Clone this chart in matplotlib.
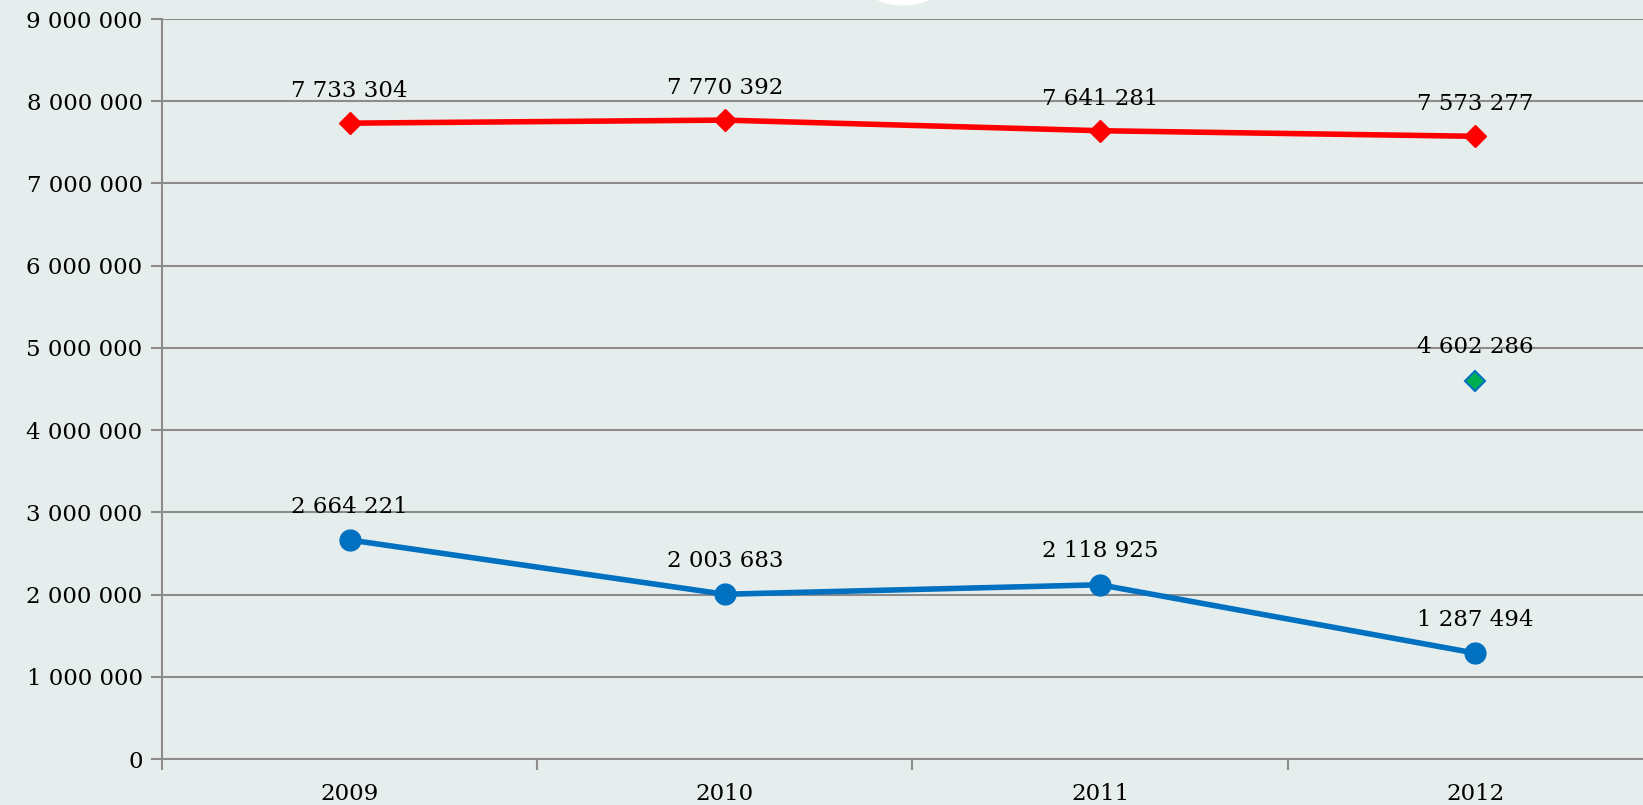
import matplotlib.pyplot as plt
from matplotlib.patches import Ellipse
from matplotlib.ticker import FuncFormatter

years = ["2009", "2010", "2011", "2012"]
red_values = [7733304, 7770392, 7641281, 7573277]
blue_values = [2664221, 2003683, 2118925, 1287494]
green_year = ["2012"]
green_values = [4602286]

BG = "#e6eeed"
GRID = "#8c8c8c"


def spaced(v):
    return f"{int(v):,}".replace(",", " ")


plt.rcParams["font.family"] = ["DejaVu Serif"]

fig = plt.figure(figsize=(16.43, 8.05), dpi=100, facecolor=BG)
ax = fig.add_axes([162 / 1643, 46 / 805, (1643 - 162) / 1643, 740 / 805])
ax.set_facecolor(BG)

x = list(range(len(years)))
gx = [years.index(y) for y in green_year]

ax.plot(x, red_values, color="#ff0000", lw=4, marker="D", ms=11, zorder=3)
ax.plot(x, blue_values, color="#0070c0", lw=4, marker="o", ms=15, zorder=3)
ax.plot(gx, green_values, ls="none", marker="D", ms=10, mfc="#00b050",
        mec="#0070c0", mew=1.5, zorder=3)

for xi, v in zip(x, red_values):
    ax.annotate(spaced(v), (xi, v), xytext=(0, 23), textcoords="offset points",
                ha="center", va="center", fontsize=16.5)
for xi, v in zip(x, blue_values):
    ax.annotate(spaced(v), (xi, v), xytext=(0, 24), textcoords="offset points",
                ha="center", va="center", fontsize=16.5)
for xi, v in zip(gx, green_values):
    ax.annotate(spaced(v), (xi, v), xytext=(0, 24), textcoords="offset points",
                ha="center", va="center", fontsize=16.5)

ax.set_ylim(0, 9000000)
ax.set_yticks(range(0, 9000001, 1000000))
ax.yaxis.set_major_formatter(FuncFormatter(lambda v, p: spaced(v)))
ax.set_xlim(-0.5, 3.447)
ax.set_xticks(x)
ax.set_xticklabels(years)
ax.set_xticks([-0.5, 0.5, 1.5, 2.5], minor=True)
ax.tick_params(axis="x", which="major", length=0, pad=17, labelsize=16.5)
ax.tick_params(axis="x", which="minor", length=8, color=GRID, width=1.5, direction="out")
ax.tick_params(axis="y", length=8, color=GRID, width=1.5, pad=6, labelsize=16.5)

ax.grid(axis="y", color=GRID, lw=1.5)
ax.set_axisbelow(True)
for s in ["top", "right"]:
    ax.spines[s].set_visible(False)
for s in ["left", "bottom"]:
    ax.spines[s].set_color(GRID)
    ax.spines[s].set_linewidth(1.5)

fig.patches.append(Ellipse((903 / 1643, 1 + 35 / 805), 100 / 1643, 80 / 805,
                           transform=fig.transFigure, color="white", zorder=5))

fig.savefig("out.png", dpi=100, facecolor=BG)
